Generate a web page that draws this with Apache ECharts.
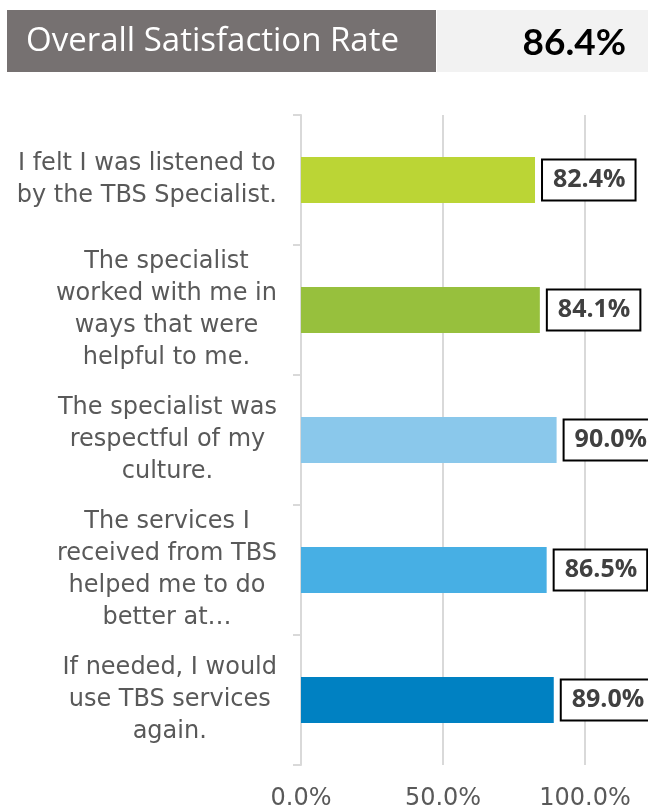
<!DOCTYPE html>
<html>
<head>
<meta charset="utf-8">
<script src="https://cdn.jsdelivr.net/npm/echarts@6/dist/echarts.min.js"></script>
<style>
  html, body { margin: 0; padding: 0; background: #fff; }
  #chart { width: 648px; height: 812px; }
</style>
</head>
<body>
<div id="chart"></div>
<script>
// data
var headerTitle = 'Overall Satisfaction Rate';
var headerValue = '86.4%';
var categories = [
    'I felt I was listened to\nby the TBS Specialist.',
    'The specialist\nworked with me in\nways that were\nhelpful to me.',
    'The specialist was\nrespectful of my\nculture.',
    'The services I\nreceived from TBS\nhelped me to do\nbetter at…',
    'If needed, I would\nuse TBS services\nagain.'
];
var values = [82.4, 84.1, 90.0, 86.5, 89.0];
var xTicks = [0, 50, 100];
var barColors = ['#BBD535', '#97C03D', '#8AC8EB', '#47AFE4', '#0081C2'];

var labelFont = 'DejaVu Sans';

var myChart = echarts.init(document.getElementById('chart'));

var option = {
    animation: false,
    grid: { left: 301, right: 63, top: 115, bottom: 47, containLabel: false },
    graphic: [
        { type: 'rect', shape: { x: 7, y: 10, width: 429, height: 62 }, style: { fill: '#767171' } },
        { type: 'rect', shape: { x: 437, y: 10, width: 211, height: 62 }, style: { fill: '#F2F2F2' } },
        { type: 'text', x: 26, y: 42, style: { text: headerTitle, fill: '#fff', fontSize: 33, fontFamily: 'Open Sans', verticalAlign: 'middle' } },
        { type: 'text', x: 626, y: 43, style: { text: headerValue, fill: '#000', fontSize: 37, fontWeight: 'bold', fontFamily: 'Lato', align: 'right', verticalAlign: 'middle' } }
    ],
    xAxis: {
        type: 'value',
        min: xTicks[0],
        max: xTicks[xTicks.length - 1],
        interval: 50,
        axisLine: { show: false },
        axisTick: { show: false },
        splitLine: { lineStyle: { color: '#D9D9D9', width: 2 } },
        axisLabel: {
            margin: 22,
            fontSize: 24,
            color: '#595959',
            fontFamily: labelFont,
            formatter: function (v) { return v.toFixed(1) + '%'; }
        }
    },
    yAxis: {
        type: 'category',
        inverse: true,
        data: categories,
        axisLine: { lineStyle: { color: '#D9D9D9', width: 2 } },
        axisTick: { show: true, length: 8, lineStyle: { color: '#D9D9D9', width: 2 } },
        axisLabel: {
            margin: 24,
            color: '#595959',
            fontFamily: labelFont,
            fontSize: 24,
            lineHeight: 32,
            formatter: function (v) {
                return v.split('\n').map(function (l) { return '{c|' + l + '}'; }).join('\n');
            },
            rich: { c: { align: 'center', fontSize: 24, lineHeight: 32, color: '#595959', fontFamily: labelFont } }
        }
    },
    series: [{
        type: 'bar',
        barWidth: 46,
        data: values.map(function (v, i) {
            return { value: v, itemStyle: { color: barColors[i] } };
        }),
        label: {
            show: true,
            position: 'right',
            distance: 8,
            formatter: function (p) { return p.value.toFixed(1) + '%'; },
            fontSize: 25,
            fontWeight: 'bold',
            fontFamily: 'Open Sans',
            color: '#404040',
            backgroundColor: '#fff',
            borderColor: '#000',
            borderWidth: 2,
            padding: [6, 9, 5, 10],
            lineHeight: 28
        }
    }]
};

myChart.setOption(option);
</script>
</body>
</html>
